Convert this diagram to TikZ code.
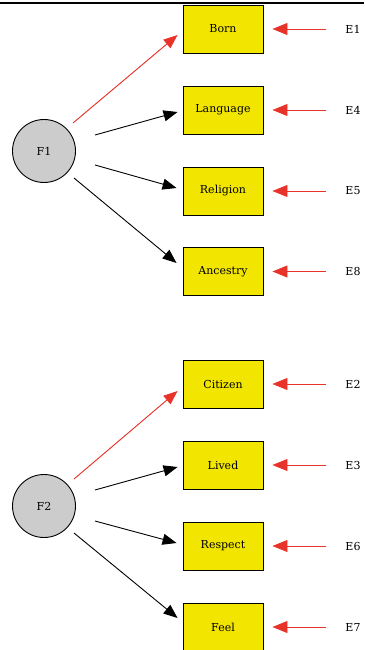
\documentclass[tikz,border=0pt]{standalone}
\usepackage{fontspec}
\setmainfont{DejaVu Serif}
\usetikzlibrary{arrows.meta}
\definecolor{boxfill}{HTML}{F2E600}
\definecolor{errred}{HTML}{E8332A}
\definecolor{factgray}{HTML}{CCCCCC}
\begin{document}
\begin{tikzpicture}[x=1pt,y=-1pt,
  font=\fontsize{11}{13}\selectfont,
  indicator/.style={draw=black,line width=0.9pt,fill=boxfill,minimum width=80pt,minimum height=48pt,inner sep=0pt},
  factor/.style={draw=black,line width=0.9pt,fill=factgray,circle,minimum size=63pt,inner sep=0pt},
  errlabel/.style={inner sep=0pt,anchor=center},
  load/.style={draw=black,line width=0.9pt,-{Triangle[length=14pt,width=11pt]}},
  firstload/.style={load,draw=errred,fill=errred},
  errarrow/.style={draw=errred,line width=0.9pt,-{Triangle[length=15pt,width=12pt,fill=errred]}}]
\useasboundingbox (0,0) rectangle (364,650);
\fill[white] (0,0) rectangle (364,650);
% rule across the top
\draw[line width=2pt] (0,3.5) -- (364,3.5);

% latent factors
\node[factor] (F1) at (44,151) {F1};
\node[factor] (F2) at (44,506) {F2};

% observed indicators
\node[indicator] (born) at (223,29) {Born};
\node[indicator] (language) at (223,110) {Language};
\node[indicator] (religion) at (223,191) {Religion};
\node[indicator] (ancestry) at (223,271.5) {Ancestry};
\node[indicator] (citizen) at (223,384) {Citizen};
\node[indicator] (lived) at (223,465) {Lived};
\node[indicator] (respect) at (223,546) {Respect};
\node[indicator] (feel) at (223,627) {Feel};

% error terms
\foreach \ind/\err in {born/E1,language/E4,religion/E5,ancestry/E8,citizen/E2,lived/E3,respect/E6,feel/E7}{
  \node[errlabel] (\err) at (353,0 |- \ind.center) {\err};
  \coordinate (\err-src) at (326,0 |- \ind.center);
  \draw[errarrow] (\err-src) -- ([xshift=9pt]\ind.east);
}

% loadings of F1
\draw[firstload] ([shift={(29,-28)}]F1.center) -- ([shift={(-5,6)}]born.west);
\draw[load] ([shift={(51,-16)}]F1.center) -- ([shift={(-5,2)}]language.west);
\draw[load] ([shift={(51,14)}]F1.center) -- ([shift={(-6,-3)}]religion.west);
\draw[load] ([shift={(30,27)}]F1.center) -- ([shift={(-6,-8.5)}]ancestry.west);

% loadings of F2
\draw[firstload] ([shift={(30,-27)}]F2.center) -- ([shift={(-5,7)}]citizen.west);
\draw[load] ([shift={(51,-16)}]F2.center) -- ([shift={(-5,2)}]lived.west);
\draw[load] ([shift={(51,15)}]F2.center) -- ([shift={(-6,-3)}]respect.west);
\draw[load] ([shift={(30,27)}]F2.center) -- ([shift={(-5,-9)}]feel.west);
\end{tikzpicture}
\end{document}
